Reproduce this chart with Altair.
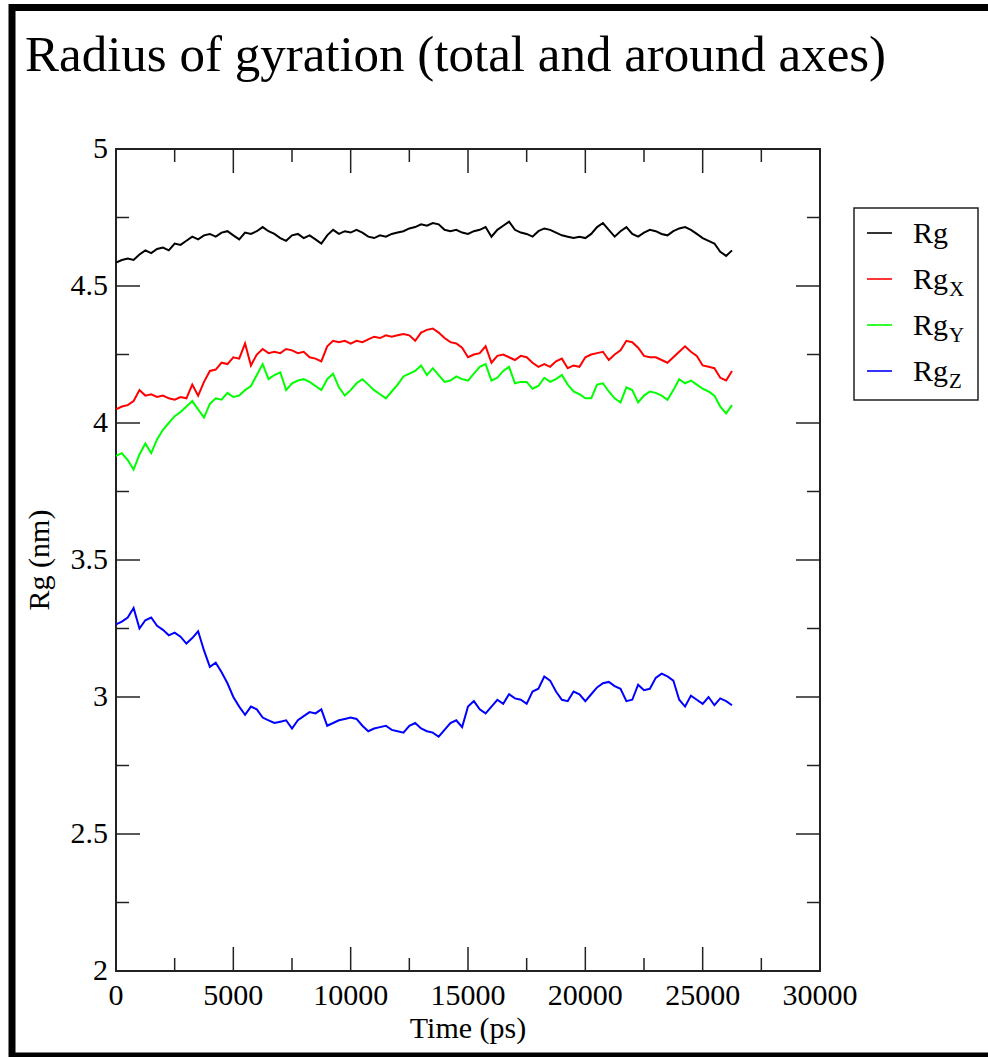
import altair as alt
import pandas as pd

TITLE = "Radius of gyration (total and around axes)"
X_TITLE = "Time (ps)"
Y_TITLE = "Rg (nm)"

series_names = ["Rg", "Rg_X", "Rg_Y", "Rg_Z"]
legend_base = ["Rg", "Rg", "Rg", "Rg"]
legend_sub = ["", "X", "Y", "Z"]
series_colors = ["#000000", "#ff0000", "#00ff00", "#0000ff"]

time_ps = list(range(0, 26251, 250))

rg = [4.585, 4.595, 4.60, 4.595, 4.615, 4.63, 4.62, 4.635, 4.64, 4.63,
      4.655, 4.65, 4.665, 4.68, 4.67, 4.685, 4.69, 4.68, 4.695, 4.70,
      4.685, 4.67, 4.695, 4.69, 4.70, 4.715, 4.70, 4.69, 4.675, 4.665,
      4.685, 4.69, 4.675, 4.685, 4.67, 4.655, 4.685, 4.705, 4.69, 4.70,
      4.695, 4.705, 4.695, 4.68, 4.675, 4.685, 4.68, 4.69, 4.695, 4.70,
      4.71, 4.715, 4.725, 4.72, 4.73, 4.725, 4.705, 4.70, 4.705, 4.695,
      4.69, 4.70, 4.705, 4.715, 4.68, 4.705, 4.72, 4.735, 4.705, 4.695,
      4.69, 4.68, 4.70, 4.71, 4.705, 4.695, 4.685, 4.68, 4.675, 4.68,
      4.675, 4.69, 4.715, 4.73, 4.705, 4.68, 4.70, 4.715, 4.69, 4.68,
      4.695, 4.705, 4.70, 4.69, 4.685, 4.70, 4.71, 4.715, 4.705, 4.69,
      4.675, 4.665, 4.655, 4.625, 4.61, 4.63]

rg_x = [4.05, 4.06, 4.065, 4.08, 4.12, 4.10, 4.105, 4.095, 4.10, 4.09,
        4.085, 4.095, 4.09, 4.14, 4.10, 4.15, 4.19, 4.195, 4.22, 4.215,
        4.24, 4.235, 4.29, 4.21, 4.25, 4.27, 4.255, 4.26, 4.255, 4.27,
        4.265, 4.255, 4.26, 4.24, 4.235, 4.225, 4.28, 4.30, 4.295, 4.30,
        4.29, 4.30, 4.295, 4.305, 4.315, 4.31, 4.32, 4.315, 4.32, 4.325,
        4.32, 4.30, 4.33, 4.34, 4.345, 4.33, 4.31, 4.295, 4.29, 4.275,
        4.24, 4.25, 4.255, 4.28, 4.22, 4.245, 4.25, 4.24, 4.23, 4.245,
        4.24, 4.22, 4.205, 4.215, 4.205, 4.225, 4.235, 4.20, 4.21, 4.205,
        4.24, 4.25, 4.255, 4.26, 4.23, 4.25, 4.265, 4.30, 4.295, 4.275,
        4.245, 4.24, 4.24, 4.23, 4.22, 4.24, 4.26, 4.28, 4.26, 4.245,
        4.21, 4.205, 4.20, 4.165, 4.155, 4.19]

rg_y = [3.88, 3.89, 3.865, 3.83, 3.885, 3.925, 3.89, 3.94, 3.975, 4.0,
        4.025, 4.04, 4.06, 4.08, 4.05, 4.02, 4.07, 4.09, 4.085, 4.11,
        4.095, 4.10, 4.12, 4.135, 4.175, 4.215, 4.16, 4.175, 4.185, 4.12,
        4.145, 4.155, 4.16, 4.15, 4.135, 4.12, 4.16, 4.18, 4.13, 4.10,
        4.12, 4.145, 4.16, 4.14, 4.12, 4.105, 4.09, 4.115, 4.14, 4.17,
        4.18, 4.19, 4.21, 4.175, 4.20, 4.175, 4.15, 4.155, 4.17, 4.16,
        4.155, 4.18, 4.205, 4.215, 4.155, 4.165, 4.19, 4.205, 4.145, 4.15,
        4.15, 4.125, 4.135, 4.165, 4.15, 4.16, 4.175, 4.14, 4.115, 4.105,
        4.09, 4.09, 4.14, 4.145, 4.115, 4.09, 4.075, 4.13, 4.12, 4.075,
        4.10, 4.115, 4.11, 4.10, 4.085, 4.12, 4.16, 4.145, 4.155, 4.14,
        4.125, 4.115, 4.10, 4.06, 4.035, 4.065]

rg_z = [3.265, 3.275, 3.29, 3.325, 3.25, 3.28, 3.29, 3.26, 3.245, 3.225,
        3.235, 3.22, 3.195, 3.215, 3.24, 3.17, 3.11, 3.125, 3.09, 3.05,
        3.0, 2.965, 2.935, 2.965, 2.955, 2.925, 2.915, 2.905, 2.91, 2.915,
        2.885, 2.915, 2.93, 2.945, 2.94, 2.955, 2.895, 2.905, 2.915, 2.92,
        2.925, 2.92, 2.895, 2.875, 2.885, 2.89, 2.895, 2.88, 2.875, 2.87,
        2.895, 2.905, 2.885, 2.875, 2.87, 2.855, 2.88, 2.905, 2.915, 2.89,
        2.965, 2.985, 2.955, 2.94, 2.965, 2.99, 2.975, 3.01, 2.995, 2.99,
        2.975, 3.02, 3.03, 3.075, 3.06, 3.02, 2.99, 2.985, 3.02, 3.01,
        2.985, 3.01, 3.035, 3.05, 3.055, 3.04, 3.03, 2.985, 2.99, 3.045,
        3.025, 3.03, 3.07, 3.085, 3.075, 3.06, 2.99, 2.965, 3.005, 2.99,
        2.975, 3.0, 2.97, 2.995, 2.985, 2.97]

x_major = [0, 5000, 10000, 15000, 20000, 25000, 30000]
x_labels = ["0", "5000", "10000", "15000", "20000", "25000", "30000"]
x_minor = [2500, 7500, 12500, 17500, 22500, 27500]
y_major = [2, 2.5, 3, 3.5, 4, 4.5, 5]
y_labels = ["2", "2.5", "3", "3.5", "4", "4.5", "5"]
y_minor = [2.25, 2.75, 3.25, 3.75, 4.25, 4.75]

# ---- layout (pixels) ----
W, H = 704, 822
SERIF = "Liberation Serif"
AX = "#222222"

rows = []
for name, vals in zip(series_names, [rg, rg_x, rg_y, rg_z]):
    for t, v in zip(time_ps, vals):
        rows.append({"time": t, "value": v, "series": name})
df = pd.DataFrame(rows)

xs = alt.Scale(domain=[0, 30000], nice=False, zero=False)
ys = alt.Scale(domain=[2, 5], nice=False, zero=False)

lines = alt.Chart(df).mark_line(strokeWidth=2).encode(
    x=alt.X("time:Q", scale=xs, axis=None),
    y=alt.Y("value:Q", scale=ys, axis=None),
    color=alt.Color("series:N", scale=alt.Scale(domain=series_names, range=series_colors), legend=None),
    detail="series:N",
)

def xticks(vals, length, top):
    d = pd.DataFrame({"v": vals})
    if top:
        yv, y2v = 0, length
    else:
        yv, y2v = H, H - length
    return alt.Chart(d).mark_rule(color=AX, strokeWidth=1.5).encode(
        x=alt.X("v:Q", scale=xs, axis=None), y=alt.value(yv), y2=alt.value(y2v))

def yticks(vals, length, right):
    d = pd.DataFrame({"v": vals})
    if right:
        xv, x2v = W, W - length
    else:
        xv, x2v = 0, length
    return alt.Chart(d).mark_rule(color=AX, strokeWidth=1.5).encode(
        y=alt.Y("v:Q", scale=ys, axis=None), x=alt.value(xv), x2=alt.value(x2v))

MAJ, MIN = 24, 13
ticks = [
    xticks(x_major, MAJ, False), xticks(x_minor, MIN, False),
    xticks(x_major, MAJ, True), xticks(x_minor, MIN, True),
    yticks(y_major, MAJ, False), yticks(y_minor, MIN, False),
    yticks(y_major, MAJ, True), yticks(y_minor, MIN, True),
]

# tick labels and axis titles
xlab = alt.Chart(pd.DataFrame({"v": x_major, "lab": x_labels})).mark_text(
    font=SERIF, fontSize=30, align="center", baseline="alphabetic", color="black"
).encode(x=alt.X("v:Q", scale=xs, axis=None), y=alt.value(H + 34), text="lab:N")

ylab = alt.Chart(pd.DataFrame({"v": y_major, "lab": y_labels})).mark_text(
    font=SERIF, fontSize=30, align="right", baseline="middle", color="black"
).encode(y=alt.Y("v:Q", scale=ys, axis=None), x=alt.value(-8), text="lab:N")

xtitle = alt.Chart(pd.DataFrame({"t": [X_TITLE]})).mark_text(
    font=SERIF, fontSize=30, align="center", baseline="alphabetic", color="black"
).encode(text="t:N", x=alt.value(W / 2), y=alt.value(H + 67))

ytitle = alt.Chart(pd.DataFrame({"t": [Y_TITLE]})).mark_text(
    font=SERIF, fontSize=30, align="center", baseline="alphabetic", color="black", angle=270
).encode(text="t:N", x=alt.value(-67), y=alt.value(H / 2))

title = alt.Chart(pd.DataFrame({"t": [TITLE]})).mark_text(
    font=SERIF, fontSize=51, align="left", baseline="alphabetic", color="black"
).encode(text="t:N", x=alt.value(-91), y=alt.value(-78))

frame = alt.Chart(pd.DataFrame({"a": [0]})).mark_rect(
    filled=False, stroke="black", strokeWidth=7
).encode(x=alt.value(-104), x2=alt.value(900), y=alt.value(-141.5), y2=alt.value(907))

# legend
LX0, LX1, LY0, LY1 = 738, 862, 59, 251
legend_layers = [
    alt.Chart(pd.DataFrame({"a": [0]})).mark_rect(
        fill="white", stroke=AX, strokeWidth=1.5
    ).encode(x=alt.value(LX0), x2=alt.value(LX1), y=alt.value(LY0), y2=alt.value(LY1))
]
for i, (base, sub, col) in enumerate(zip(legend_base, legend_sub, series_colors)):
    yc = 84 + 46 * i
    d = pd.DataFrame({"base": [base], "sub": [sub]})
    legend_layers.append(
        alt.Chart(d).mark_rule(color=col, strokeWidth=1.6).encode(
            x=alt.value(751), x2=alt.value(776), y=alt.value(yc))
    )
    legend_layers.append(
        alt.Chart(d).mark_text(font=SERIF, fontSize=30, align="left",
                               baseline="alphabetic", color="black").encode(
            text="base:N", x=alt.value(797), y=alt.value(yc + 10))
    )
    if sub:
        legend_layers.append(
            alt.Chart(d).mark_text(font=SERIF, fontSize=21, align="left",
                                   baseline="alphabetic", color="black").encode(
                text="sub:N", x=alt.value(833), y=alt.value(yc + 17))
        )

chart = alt.layer(
    frame, title, lines, *ticks, xlab, ylab, xtitle, ytitle, *legend_layers
).properties(
    width=W, height=H,
    autosize=alt.AutoSizeParams(type="none"),
    padding={"left": 116, "top": 149, "right": 168, "bottom": 86},
    background="white",
).configure_view(
    stroke=AX, strokeWidth=2
)

chart.save("out.html", embed_options={"renderer": "svg", "actions": False})
